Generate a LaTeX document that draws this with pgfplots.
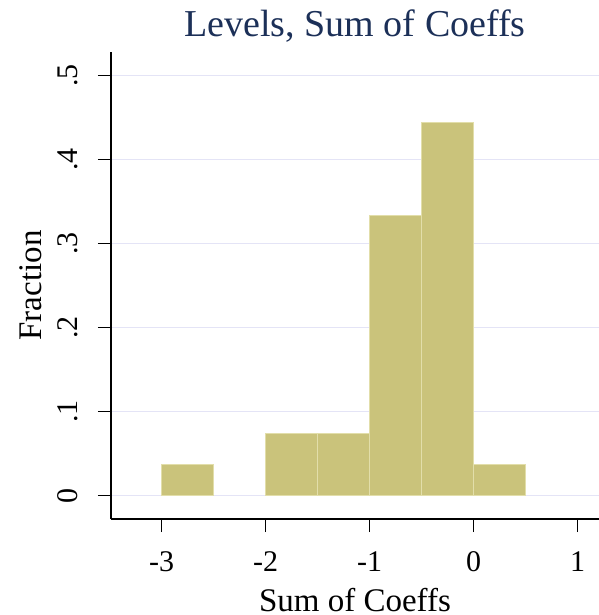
\documentclass[border=0pt]{standalone}
\usepackage{pgfplots}
\pgfplotsset{compat=1.18}
\usepackage{fontspec}
\setmainfont{Liberation Serif}

\definecolor{barfill}{RGB}{202,195,123}
\definecolor{baredge}{RGB}{226,222,170}
\definecolor{gridcol}{RGB}{228,228,246}
\definecolor{titlecol}{RGB}{28,48,88}

\begin{document}
\begin{tikzpicture}
\path[use as bounding box] (-111bp,-96bp) rectangle (488bp,519bp);
\begin{axis}[
    scale only axis,
    width=488bp, height=467bp,
    xmin=-3.4875, xmax=1.205,
    ymin=-0.0277, ymax=0.528,
    axis lines*=left,
    axis line style={line width=1.4bp, black},
    tick align=outside,
    major tick length=13bp,
    tick style={line width=1.4bp, black},
    xtick={-3,-2,-1,0,1},
    xticklabels={-3,-2,-1,0,1},
    ytick={0,0.1,0.2,0.3,0.4,0.5},
    yticklabels={0,.1,.2,.3,.4,.5},
    ymajorgrids,
    major grid style={line width=1.2bp, gridcol},
    tick label style={font=\fontsize{30bp}{30bp}\selectfont},
    xticklabel style={anchor=base, yshift=-39bp},
    yticklabel style={rotate=90, anchor=base, yshift=20bp},
    title={Levels, Sum of Coeffs},
    title style={at={(0.5,1)}, anchor=base, yshift=10bp,
        font=\fontsize{38bp}{38bp}\selectfont, text=titlecol},
    xlabel={Sum of Coeffs},
    xlabel style={at={(0.5,0)}, anchor=base, yshift=-92bp, inner sep=0pt,
        font=\fontsize{33bp}{33bp}\selectfont},
    ylabel={Fraction},
    ylabel style={at={(0,0.5)}, anchor=base, yshift=69bp,
        font=\fontsize{33bp}{33bp}\selectfont},
    clip=false,
]
\addplot[ybar interval, fill=barfill, draw=baredge, line width=0.8bp]
  coordinates {(-3,0.0370) (-2.5,0.0370)};
\addplot[ybar interval, fill=barfill, draw=baredge, line width=0.8bp]
  coordinates {(-2,0.0741) (-1.5,0.0741) (-1,0.3333) (-0.5,0.4444) (0,0.0370) (0.5,0.0370)};
\end{axis}
\end{tikzpicture}
\end{document}
